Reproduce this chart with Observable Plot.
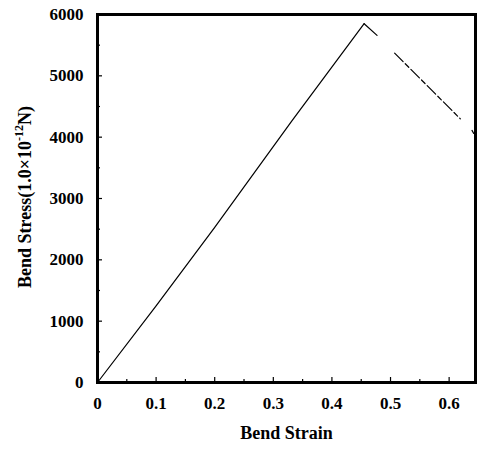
<!DOCTYPE html>
<html><head><meta charset="utf-8">
<script src="https://cdn.jsdelivr.net/npm/d3@7"></script>
<script src="https://cdn.jsdelivr.net/npm/@observablehq/plot@0.6"></script>
<style>body{margin:0;background:#fff}</style>
</head><body><div id="chart"></div>
<script>
const loadStrain = [0, 0.1, 0.2, 0.332, 0.455];
const loadStress = [0, 1250, 2530, 4270, 5850];
const dropStrain = [0.455, 0.477];
const dropStress = [5850, 5660];
const dashStrain = [0.507, 0.619];
const dashStress = [5370, 4300];
const tailStrain = [0.639, 0.642];
const tailStress = [4110, 4060];
const xMajor = [0, 0.1, 0.2, 0.3, 0.4, 0.5, 0.6];
const xMinor = [0.05, 0.15, 0.25, 0.35, 0.45, 0.55];
const yMajor = [0, 1000, 2000, 3000, 4000, 5000, 6000];
const yMinor = [500, 1500, 2500, 3500, 4500, 5500];

const toPts = (xs, ys) => xs.map((x, i) => ({x, y: ys[i]}));
const font = "Liberation Serif, Times New Roman, serif";

const chart = Plot.plot({
  width: 480, height: 449,
  marginLeft: 97, marginRight: 5, marginTop: 14, marginBottom: 67,
  style: {fontFamily: font, background: "#fff", color: "#000"},
  x: {domain: [0, 0.645], label: null},
  y: {domain: [0, 6000], label: null},
  marks: [
    Plot.axisX({ticks: xMajor, tickSize: -5, text: null, strokeWidth: 1.2, label: null}),
    Plot.axisX({ticks: xMinor, tickSize: -3, text: null, strokeWidth: 1.2, label: null}),
    Plot.axisX({ticks: xMajor, tickSize: 0, tickPadding: 14, tickFormat: d => d === 0 ? "0" : d3.format(".1f")(d),
      fontSize: 17, fontWeight: "bold", label: null}),
    Plot.axisY({ticks: yMajor, tickSize: -5, text: null, strokeWidth: 1.2, label: null}),
    Plot.axisY({ticks: yMinor, tickSize: -3, text: null, strokeWidth: 1.2, label: null}),
    Plot.axisY({ticks: yMajor, tickSize: 0, tickPadding: 14, tickFormat: d => String(d),
      fontSize: 17, fontWeight: "bold", label: null}),
    Plot.line(toPts(loadStrain, loadStress), {x: "x", y: "y", stroke: "#000", strokeWidth: 1.2}),
    Plot.line(toPts(dropStrain, dropStress), {x: "x", y: "y", stroke: "#000", strokeWidth: 1.2}),
    Plot.line(toPts(dashStrain, dashStress), {x: "x", y: "y", stroke: "#000", strokeWidth: 1.2, strokeDasharray: "12,3,5,3"}),
    Plot.line(toPts(tailStrain, tailStress), {x: "x", y: "y", stroke: "#000", strokeWidth: 1.2}),
    Plot.frame({stroke: "#000", strokeWidth: 3}),
    Plot.text(["Bend Strain"], {frameAnchor: "bottom", dy: 56, fontSize: 18, fill: "#000", fontWeight: "bold"}),
  ]
});

// y-axis title with superscript
const svg = d3.select(chart);
const t = svg.append("text")
  .attr("transform", "translate(25,197) rotate(-90)")
  .attr("text-anchor", "middle")
  .attr("dominant-baseline", "central")
  .attr("font-family", font)
  .attr("font-size", 18)
  .attr("font-weight", "bold")
  .attr("fill", "#000");
t.append("tspan").text("Bend Stress(1.0×10");
t.append("tspan").attr("dy", -6).attr("font-size", 12).text("-12");
t.append("tspan").attr("dy", 6).text("N)");

document.getElementById("chart").appendChild(chart);
</script>
</body></html>
